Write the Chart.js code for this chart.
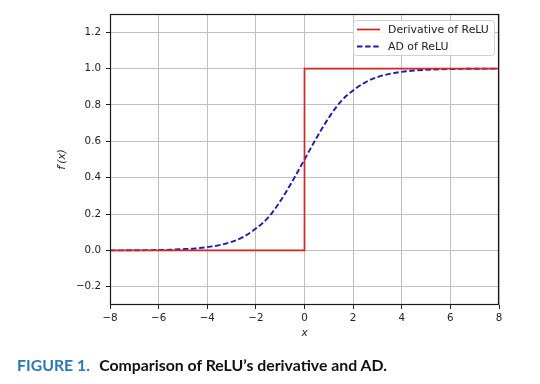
<!DOCTYPE html>
<html>
<head>
<meta charset="utf-8">
<script src="https://cdn.jsdelivr.net/npm/chart.js@4/dist/chart.umd.min.js"></script>
<style>
  html, body { margin: 0; padding: 0; background: #fff; }
  #wrap { position: relative; width: 540px; height: 384px; overflow: hidden; }
  #c { position: absolute; left: 0; top: 0; }
  #cap { position: absolute; left: 17px; top: 356px; white-space: nowrap;
         font-family: Lato, "Open Sans", sans-serif; font-weight: 700; font-size: 15.5px;
         transform-origin: 0 0; color: #111; }
  #cap .fig { color: #2a78b8; margin-right: 9px; }
</style>
</head>
<body>
<div id="wrap">
  <canvas id="c" width="540" height="384"></canvas>
  <div id="cap"><span class="fig">FIGURE 1.</span><span>Comparison of ReLU’s derivative and AD.</span></div>
</div>
<script>
// ---- data ----
const reluX = [-8, 0, 0, 8];
const reluY = [0, 0, 1, 1];
const adX = [-8, -7.5, -7, -6.5, -6, -5.5, -5, -4.5, -4, -3.5, -3, -2.5, -2, -1.5, -1, -0.5,
             0, 0.5, 1, 1.5, 2, 2.5, 3, 3.5, 4, 4.5, 5, 5.5, 6, 6.5, 7, 7.5, 8];
const adY = [0.0003, 0.0006, 0.001, 0.0015, 0.0025, 0.004, 0.007, 0.011, 0.018, 0.029, 0.047, 0.076,
             0.12, 0.18, 0.27, 0.38, 0.5, 0.62, 0.73, 0.82, 0.88, 0.924, 0.953, 0.971, 0.982,
             0.989, 0.993, 0.996, 0.9975, 0.9985, 0.999, 0.9994, 0.9997];
const xTicks = [-8, -6, -4, -2, 0, 2, 4, 6, 8];
const yTicks = [-0.2, 0.0, 0.2, 0.4, 0.6, 0.8, 1.0, 1.2];
const seriesNames = ["Derivative of ReLU", "AD of ReLU"];
const xLabel = "x";
const yLabel = "f\u2032(x)";

const toPts = (xs, ys) => xs.map((x, i) => ({ x: x, y: ys[i] }));
const fmtMinus = s => String(s).replace('-', '\u2212');

const frame = {
  id: 'frame',
  afterDatasetsDraw(chart) {
    const a = chart.chartArea, ctx = chart.ctx;
    ctx.save();
    ctx.strokeStyle = '#1a1a1a';
    ctx.lineWidth = 1.2;
    ctx.strokeRect(Math.round(a.left) + 0.5, Math.round(a.top) + 0.5,
                   Math.round(a.right - a.left) - 1, Math.round(a.bottom - a.top) - 1);
    ctx.restore();
  },
  afterDraw(chart) {
    const a = chart.chartArea, ctx = chart.ctx;
    const w = 141, h = 35;
    const x0 = a.right - 5 - w, y0 = a.top + 6;
    ctx.save();
    ctx.fillStyle = 'rgba(255,255,255,0.85)';
    ctx.strokeStyle = '#d0d0d0';
    ctx.lineWidth = 1;
    ctx.beginPath();
    ctx.roundRect(x0 + 0.5, y0 + 0.5, w, h, 3);
    ctx.fill(); ctx.stroke();
    ctx.font = '10.9px "DejaVu Sans"';
    ctx.textBaseline = 'middle';
    chart.data.datasets.forEach((ds, i) => {
      const yy = y0 + 9.5 + i * 17;
      ctx.strokeStyle = ds.borderColor;
      ctx.lineWidth = ds.borderWidth;
      ctx.setLineDash(ds.borderDash || []);
      ctx.beginPath();
      ctx.moveTo(x0 + 4, yy); ctx.lineTo(x0 + 27, yy);
      ctx.stroke();
      ctx.setLineDash([]);
      ctx.fillStyle = '#222';
      ctx.fillText(ds.label, x0 + 35, yy + 0.5);
    });
    ctx.restore();
  }
};

new Chart(document.getElementById('c'), {
  type: 'scatter',
  data: {
    datasets: [
      { label: seriesNames[0], data: toPts(reluX, reluY), showLine: true,
        borderColor: '#d62424', borderWidth: 1.7, pointRadius: 0, tension: 0, fill: false },
      { label: seriesNames[1], data: toPts(adX, adY), showLine: true,
        borderColor: '#1c1cae', borderWidth: 1.9, borderDash: [5.5, 2.6], pointRadius: 0,
        cubicInterpolationMode: 'monotone', fill: false }
    ]
  },
  options: {
    responsive: false,
    animation: false,
    devicePixelRatio: 1,
    layout: { padding: { left: 0, right: 41, top: 14, bottom: 44 } },
    plugins: { legend: { display: false }, tooltip: { enabled: false } },
    scales: {
      x: {
        type: 'linear', min: -8, max: 8,
        afterBuildTicks: s => { s.ticks = xTicks.map(v => ({ value: v })); },
        afterFit: s => { s.height = 35; },
        ticks: { callback: v => fmtMinus(v), color: '#222', padding: 3,
                 font: { family: 'DejaVu Sans', size: 10.3 }, maxRotation: 0, autoSkip: false },
        grid: { color: '#c0c0c0', lineWidth: 1, tickLength: 4, tickColor: '#222', tickWidth: 1 },
        border: { display: false },
        title: { display: true, text: xLabel, color: '#262626', padding: { top: 0, bottom: 0 },
                 font: { family: 'DejaVu Sans', size: 10.5, style: 'italic' } }
      },
      y: {
        type: 'linear', min: -0.3, max: 1.3,
        afterBuildTicks: s => { s.ticks = yTicks.map(v => ({ value: v })); },
        afterFit: s => { s.width = 110; },
        ticks: { callback: v => fmtMinus(Number(v).toFixed(1)), color: '#222', padding: 5,
                 font: { family: 'DejaVu Sans', size: 10.3 }, autoSkip: false },
        grid: { color: '#c0c0c0', lineWidth: 1, tickLength: 4, tickColor: '#222', tickWidth: 1 },
        border: { display: false },
        title: { display: true, text: yLabel, color: '#262626', padding: { top: 56, bottom: 0 },
                 font: { family: 'DejaVu Sans', size: 10.5, style: 'italic' } }
      }
    }
  },
  plugins: [frame]
});

// fit caption width to the reference's caption span
const cap = document.getElementById('cap');
const targetW = 370;
const w = cap.getBoundingClientRect().width;
cap.style.transform = 'scaleX(' + (targetW / w) + ')';
</script>
</body>
</html>
